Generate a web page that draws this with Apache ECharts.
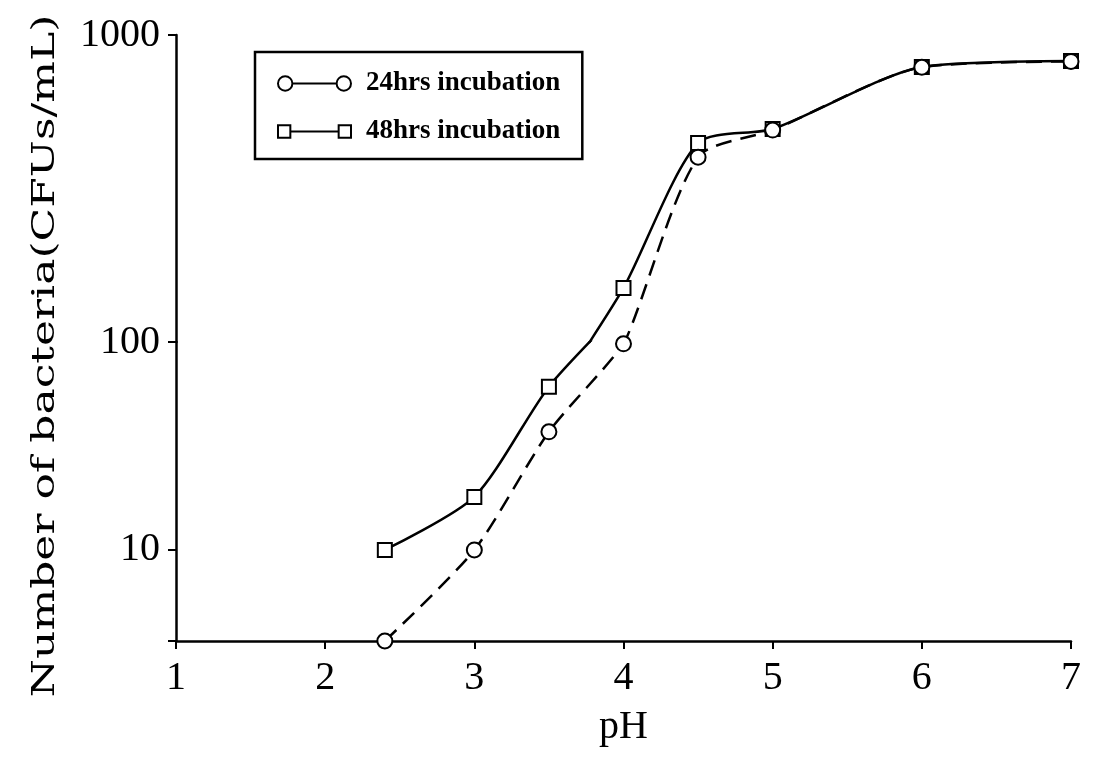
<!DOCTYPE html>
<html><head><meta charset="utf-8">
<script src="https://cdn.jsdelivr.net/npm/echarts@6/dist/echarts.min.js"></script>
<style>html,body{margin:0;padding:0;background:#fff}#c{width:1102px;height:759px}</style>
</head><body><div id="c"></div>
<script>
// ---- data ----
const phValues = [2.4, 3, 3.5, 4, 4.5, 5, 6, 7];
const cfu24h = [3.65, 10, 37, 98, 400, 490, 785, 820];
const cfu48h = [10, 18, 61, 150, 445, 494, 787, 823];
const seriesNames = ['24hrs incubation', '48hrs incubation'];
const xTickValues = [1, 2, 3, 4, 5, 6, 7];
const yLabelsUpper = [1000];
const yLabelsLower = [10, 100];
const yTitle = 'Number of bacteria(CFUs/mL)';
const xTitle = 'pH';

const pairs = (xs, ys) => xs.map((x, i) => [x, ys[i]]);
const near = (list) => (v) => list.some(l => Math.abs(v - l) < 1e-6 * l) ? String(Math.round(v)) : '';

const FONT = 'Liberation Serif';
const axisLineStyle = { color: '#000', width: 2.5 };
const tickStyle = { show: true, length: 8, lineStyle: { color: '#000', width: 2 } };
const yLabelStyle = { color: '#000', fontFamily: FONT, fontSize: 40, margin: 16 };

function mkSeries(name, data, grid, symbol, size, dash) {
  return {
    name, type: 'line', xAxisIndex: grid, yAxisIndex: grid,
    data, smooth: 0.25, clip: true, symbol, symbolSize: size,
    lineStyle: { color: '#000', width: 2.5, type: dash },
    itemStyle: { color: '#000', borderColor: '#000', borderWidth: 2.2 },
    emphasis: { disabled: true }, animation: false, z: 3
  };
}

const d24 = pairs(phValues, cfu24h);
const d48 = pairs(phValues, cfu48h);
const circleIcon = 'path://M1,8A7,7,0,1,1,15,8A7,7,0,1,1,1,8ZM15,8L58,8M58,8A7,7,0,1,1,72,8A7,7,0,1,1,58,8Z';
const squareIcon = 'path://M1,2L13,2L13,14L1,14ZM13,8L60,8M60,2L72,2L72,14L60,14Z';

const chart = echarts.init(document.getElementById('c'), null, { renderer: 'canvas' });
chart.setOption({
  backgroundColor: '#fff',
  animation: false,
  grid: [
    { left: 176, right: 31, top: 35, height: 307 },
    { left: 176, right: 31, top: 342, height: 299 }
  ],
  xAxis: [
    { gridIndex: 0, type: 'value', min: 1, max: 7, interval: 1, show: false },
    { gridIndex: 1, type: 'value', min: 1, max: 7, interval: 1,
      axisLine: { lineStyle: axisLineStyle }, axisTick: tickStyle,
      splitLine: { show: false },
      axisLabel: { color: '#000', fontFamily: FONT, fontSize: 40, margin: 17,
        formatter: v => xTickValues.includes(v) ? String(v) : '' },
      name: xTitle, nameLocation: 'middle', nameGap: 66,
      nameTextStyle: { color: '#000', fontFamily: FONT, fontSize: 40 } }
  ],
  yAxis: [
    { gridIndex: 0, type: 'log', logBase: 10, min: 100, max: 1000,
      axisLine: { show: true, lineStyle: axisLineStyle }, axisTick: tickStyle,
      splitLine: { show: false },
      axisLabel: Object.assign({ formatter: near(yLabelsUpper), showMinLabel: true, showMaxLabel: true }, yLabelStyle) },
    { gridIndex: 1, type: 'log', logBase: 10, min: 3.65, max: 100,
      axisLine: { show: true, lineStyle: axisLineStyle }, axisTick: tickStyle,
      splitLine: { show: false },
      axisLabel: Object.assign({ formatter: near(yLabelsLower), showMinLabel: true, showMaxLabel: true }, yLabelStyle) }
  ],
  legend: {
    left: 255, top: 52, orient: 'vertical', selectedMode: false,
    itemWidth: 73, itemHeight: 16, itemGap: 21,
    padding: [18, 22, 14, 22], borderColor: '#000', borderWidth: 2.5,
    textStyle: { color: '#000', fontFamily: FONT, fontWeight: 'bold', fontSize: 27, padding: [0, 0, 0, 10] },
    data: [
      { name: seriesNames[0], icon: circleIcon, itemStyle: { color: '#fff', borderColor: '#000', borderWidth: 2 } },
      { name: seriesNames[1], icon: squareIcon, itemStyle: { color: '#fff', borderColor: '#000', borderWidth: 2 } }
    ]
  },
  graphic: [{
    type: 'text', x: 46, y: 356, rotation: Math.PI / 2, scaleX: 1.42, silent: true,
    style: { text: yTitle, fill: '#000', font: '31px "DejaVu Serif"', textAlign: 'center', textVerticalAlign: 'middle' }
  }],
  series: [
    mkSeries(seriesNames[1], d48, 0, 'emptyRect', 14, 'solid'),
    mkSeries(seriesNames[1], d48, 1, 'emptyRect', 14, 'solid'),
    mkSeries(seriesNames[0], d24, 0, 'emptyCircle', 15, [16, 9]),
    mkSeries(seriesNames[0], d24, 1, 'emptyCircle', 15, [16, 9])
  ]
});
</script></body></html>
